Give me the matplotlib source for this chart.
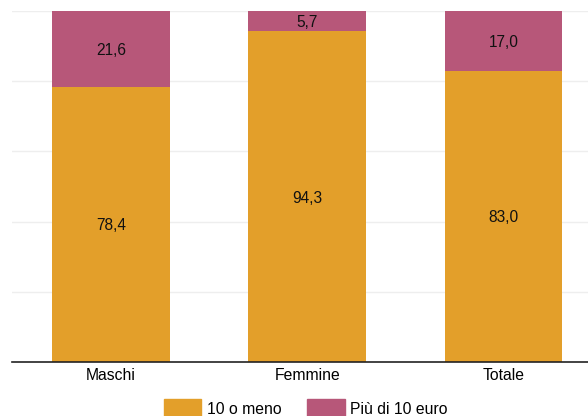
import matplotlib.pyplot as plt
from matplotlib.patches import Rectangle

categories = ["Maschi", "Femmine", "Totale"]
fino_10 = [78.4, 94.3, 83.0]
oltre_10 = [21.6, 5.7, 17.0]
series_labels = ["10 o meno", "Più di 10 euro"]

orange = "#E39F2A"
pink = "#B75779"

plt.rcParams['font.family'] = ['Liberation Sans', 'DejaVu Sans']

fig = plt.figure(figsize=(5.88, 4.16), dpi=100)
ax = fig.add_axes([12 / 588, 1 - 362 / 416, 576 / 588, 351 / 416])

x = range(len(categories))
width = 0.6
ax.bar(x, fino_10, width=width, color=orange, zorder=2)
ax.bar(x, oltre_10, width=width, bottom=fino_10, color=pink, zorder=2)

for i, (a, b) in enumerate(zip(fino_10, oltre_10)):
    ax.text(i, a / 2, f"{a:.1f}".replace(".", ","), ha="center", va="center_baseline", fontsize=11.2, color="#111111", zorder=3)
    ax.text(i, a + b / 2, f"{b:.1f}".replace(".", ","), ha="center", va="center_baseline", fontsize=11.2, color="#111111", zorder=3)

ax.set_xlim(-0.504, 2.43)
ax.set_ylim(0, 100)
ax.set_yticks([20, 40, 60, 80, 100])
ax.yaxis.grid(True, color="#eeeeee", linewidth=1, zorder=0)
ax.tick_params(axis="y", left=False, labelleft=False)
ax.tick_params(axis="x", length=0, labelsize=11.3, pad=4)
ax.set_xticks(list(x))
ax.set_xticklabels(categories)
for side in ["top", "right", "left"]:
    ax.spines[side].set_visible(False)
ax.spines["bottom"].set_color("#222222")
ax.spines["bottom"].set_linewidth(1.2)

# legend drawn in figure coords, clipped at the bottom like the original
fig.patches.append(Rectangle((164 / 588, 0), 37 / 588, 17 / 416, transform=fig.transFigure, color=orange))
fig.text(207 / 588, 8.5 / 416, series_labels[0], fontsize=11.3, va="center_baseline", ha="left")
fig.patches.append(Rectangle((307 / 588, 0), 38 / 588, 17 / 416, transform=fig.transFigure, color=pink))
fig.text(350 / 588, 8.5 / 416, series_labels[1], fontsize=11.3, va="center_baseline", ha="left")

fig.savefig("out.png", dpi=100)
